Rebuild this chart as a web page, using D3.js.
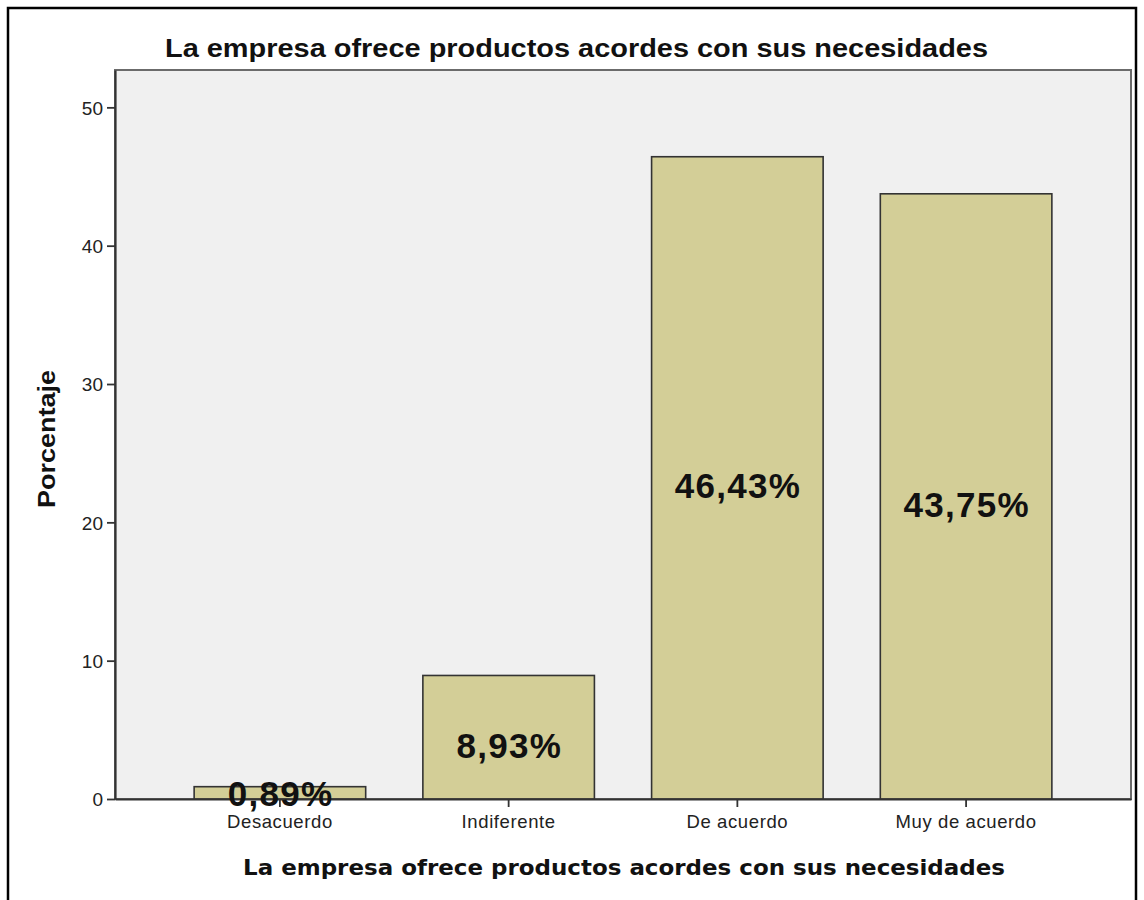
<!DOCTYPE html>
<html>
<head>
<meta charset="utf-8">
<script src="https://cdn.jsdelivr.net/npm/d3@7/dist/d3.min.js"></script>
<style>
  html, body { margin: 0; padding: 0; background: #ffffff; }
  svg { display: block; }
</style>
</head>
<body>
<svg id="chart" width="1144" height="900"></svg>
<script>
const categories = ["Desacuerdo", "Indiferente", "De acuerdo", "Muy de acuerdo"];
const percentages = [0.89, 8.93, 46.43, 43.75];
const valueLabels = ["0,89%", "8,93%", "46,43%", "43,75%"];
const yTicks = [0, 10, 20, 30, 40, 50];
const chartTitle = "La empresa ofrece productos acordes con sus necesidades";
const xTitle = "La empresa ofrece productos acordes con sus necesidades";
const yTitle = "Porcentaje";

const svg = d3.select("#chart");
const plot = { left: 115, right: 1131, top: 70, bottom: 799 };

// outer frame
svg.append("rect")
  .attr("x", 8).attr("y", 8).attr("width", 1128).attr("height", 920)
  .attr("fill", "#ffffff").attr("stroke", "#000").attr("stroke-width", 2.5);

const x = d3.scaleBand()
  .domain(categories)
  .range([plot.left, plot.right])
  .paddingInner(0.25)
  .paddingOuter(0.346);

const y = d3.scaleLinear().domain([0, 52.7]).range([plot.bottom, plot.top]);

// plot background
svg.append("rect")
  .attr("x", plot.left).attr("y", plot.top)
  .attr("width", plot.right - plot.left).attr("height", plot.bottom - plot.top)
  .attr("fill", "#f0f0f0").attr("stroke", "#6b6b6b").attr("stroke-width", 2);

// bars
svg.append("g").selectAll("rect")
  .data(categories)
  .join("rect")
  .attr("x", d => x(d))
  .attr("y", (d, i) => y(percentages[i]))
  .attr("width", x.bandwidth())
  .attr("height", (d, i) => y(0) - y(percentages[i]))
  .attr("fill", "#d3ce97")
  .attr("stroke", "#333333")
  .attr("stroke-width", 1.6);

// y axis
const yAxis = svg.append("g")
  .attr("transform", `translate(${plot.left},0)`)
  .call(d3.axisLeft(y).tickValues(yTicks).tickSize(8).tickSizeOuter(0).tickPadding(4).tickFormat(d3.format("d")));
yAxis.select(".domain").attr("stroke", "#333").attr("stroke-width", 2.2);
yAxis.selectAll(".tick line").attr("stroke", "#333").attr("stroke-width", 1.8);
yAxis.selectAll(".tick text")
  .attr("font-family", "Liberation Sans, Arial, sans-serif")
  .attr("font-size", 19).attr("fill", "#222").attr("dy", "0.36em");

// x axis
const xAxis = svg.append("g")
  .attr("transform", `translate(0,${plot.bottom})`)
  .call(d3.axisBottom(x).tickSize(8).tickSizeOuter(0).tickPadding(8));
xAxis.select(".domain").attr("stroke", "#333").attr("stroke-width", 2.2);
xAxis.selectAll(".tick line").attr("stroke", "#333").attr("stroke-width", 1.8);
xAxis.selectAll(".tick text")
  .attr("font-family", "Liberation Sans, Arial, sans-serif")
  .attr("font-size", 18.5).attr("fill", "#222")
  .attr("letter-spacing", "0.6px");

// value labels
svg.append("g").selectAll("text")
  .data(categories)
  .join("text")
  .attr("x", d => x(d) + x.bandwidth() / 2 + 0.65)
  .attr("y", (d, i) => {
    const mid = (y(percentages[i]) + y(0)) / 2;
    return Math.min(mid + 20.5, y(0) + 7);
  })
  .attr("text-anchor", "middle")
  .attr("font-family", "Liberation Sans, Arial, sans-serif")
  .attr("font-weight", "bold")
  .attr("font-size", 35)
  .attr("letter-spacing", "1.3px")
  .attr("fill", "#111")
  .text((d, i) => valueLabels[i]);

// titles
function fit(sel, target) {
  sel.attr("textLength", target).attr("lengthAdjust", "spacingAndGlyphs");
}
svg.append("text")
  .attr("x", 576.5).attr("y", 57)
  .attr("text-anchor", "middle")
  .attr("font-family", "Liberation Sans, Arial, sans-serif")
  .attr("font-weight", "bold").attr("font-size", 25.5).attr("fill", "#111")
  .text(chartTitle)
  .call(fit, 823);

svg.append("text")
  .attr("x", 624).attr("y", 875)
  .attr("text-anchor", "middle")
  .attr("font-family", "DejaVu Sans, sans-serif")
  .attr("font-weight", "bold").attr("font-size", 22).attr("fill", "#111")
  .text(xTitle)
  .call(fit, 762);

svg.append("text")
  .attr("transform", "translate(55,439) rotate(-90)")
  .attr("text-anchor", "middle")
  .attr("font-family", "Liberation Sans, Arial, sans-serif")
  .attr("font-weight", "bold").attr("font-size", 24).attr("fill", "#111")
  .text(yTitle)
  .call(fit, 138);
</script>
</body>
</html>
